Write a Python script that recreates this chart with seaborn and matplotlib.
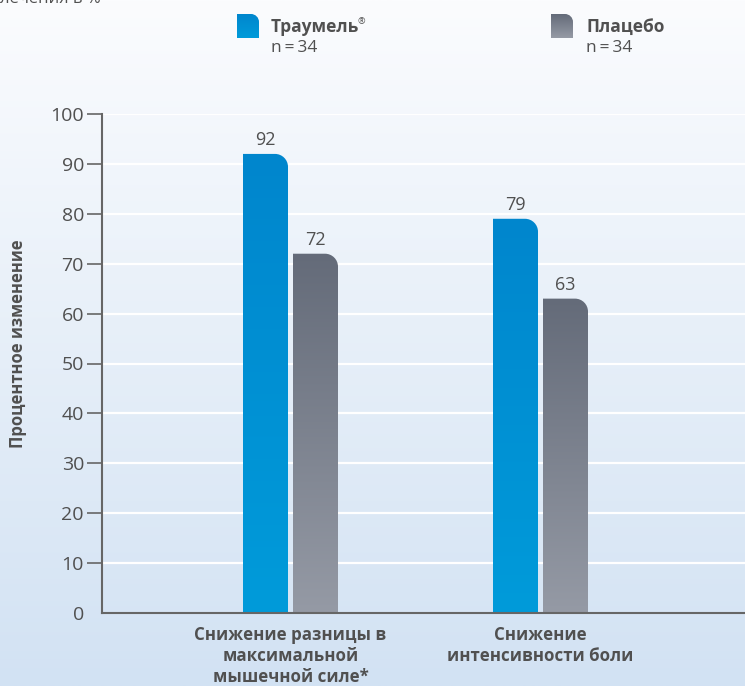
import numpy as np
import pandas as pd
import matplotlib
matplotlib.use("Agg")
import matplotlib.pyplot as plt
import seaborn as sns
from matplotlib.path import Path
from matplotlib.patches import PathPatch
from matplotlib.colors import LinearSegmentedColormap

# ---- data ----
categories = ["Снижение разницы в\nмаксимальной\nмышечной силе*", "Снижение\nинтенсивности боли"]
groups = ["Траумель", "Плацебо"]
traumeel_values = [92, 79]
placebo_values = [72, 63]
group_n = ["n\u2009=\u200934", "n\u2009=\u200934"]
yticks = [0, 10, 20, 30, 40, 50, 60, 70, 80, 90, 100]

df = pd.DataFrame({
    "category": categories * 2,
    "group": [groups[0]] * 2 + [groups[1]] * 2,
    "value": traumeel_values + placebo_values,
})

grad_top = {groups[0]: "#0086cd", groups[1]: "#646b79"}
grad_bot = {groups[0]: "#009bda", groups[1]: "#959aa5"}
TXT = "#505050"

sns.set_theme(style="white")
plt.rcParams["font.family"] = ["Open Sans", "DejaVu Sans"]

W, H = 745, 686
fig = plt.figure(figsize=(W / 100, H / 100), dpi=100)

# background gradient
bg = fig.add_axes([0, 0, 1, 1], zorder=-10)
bg_cmap = LinearSegmentedColormap.from_list("bg", ["#fbfcfe", "#d2e2f3"])
bg.imshow(np.linspace(0, 1, 256).reshape(-1, 1), aspect="auto", cmap=bg_cmap,
          extent=[0, 1, 0, 1], origin="upper")
bg.set_axis_off()

# main axes: left 102px, right 745px, top 114px(=100), bottom 613px (=0)
x0, x1 = 102, 745
y_top_px, y_bot_px = 114, 613
ax = fig.add_axes([x0 / W, 1 - y_bot_px / H, (x1 - x0) / W, (y_bot_px - y_top_px) / H])
ax.set_facecolor("none")

sns.barplot(data=df, x="category", y="value", hue="group", hue_order=groups,
            order=categories, width=0.4, gap=0.1, palette=grad_top,
            legend=False, ax=ax, errorbar=None)

ax.set_ylim(0, 100)
ax.set_xlim(-0.754, 1.818)
ax.set_yticks(yticks)
ax.set_yticklabels([str(t) for t in yticks], fontsize=14, color=TXT)
ax.tick_params(axis="y", length=11, width=1.2, color="#666666", pad=2, left=True)
ax.tick_params(axis="x", length=0, pad=9)
for lbl in ax.get_xticklabels():
    lbl.set_fontweight("bold")
    lbl.set_fontsize(12.2)
    lbl.set_color(TXT)
    lbl.set_linespacing(1.25)
    lbl.set_va("top")
ax.yaxis.get_major_ticks()[0].tick1line.set_visible(False)

for y in yticks[1:]:
    ax.axhline(y, color="white", lw=1.6, zorder=0.5)

for s in ["top", "right"]:
    ax.spines[s].set_visible(False)
for s in ["left", "bottom"]:
    ax.spines[s].set_color("#666666")
    ax.spines[s].set_linewidth(1.5)
    ax.spines[s].set_zorder(5)

ax.set_xlabel("")
ax.set_ylabel("")
fig.text(18 / W, 1 - 344 / H, "Процентное изменение", rotation=90, ha="center", va="center",
         fontsize=12, fontweight="bold", color=TXT)

# rounded-top-right bars with vertical gradient
px_per_x = (x1 - x0) / (1.818 + 0.754)
px_per_y = (y_bot_px - y_top_px) / 100.0
r_px = 13
rx = r_px / px_per_x
ry = r_px / px_per_y
k = 0.5523

patches = list(ax.patches)
for i, p in enumerate(patches):
    g = groups[i // len(categories)]
    xl = p.get_x()
    w = p.get_width()
    h = p.get_height()
    xr = xl + w
    p.set_visible(False)
    verts = [
        (xl, 0), (xl, h), (xr - rx, h),
        (xr - rx + k * rx, h), (xr, h - ry + k * ry), (xr, h - ry),
        (xr, 0), (xl, 0),
    ]
    codes = [Path.MOVETO, Path.LINETO, Path.LINETO,
             Path.CURVE4, Path.CURVE4, Path.CURVE4,
             Path.LINETO, Path.CLOSEPOLY]
    pp = PathPatch(Path(verts, codes), facecolor="none", edgecolor="none")
    ax.add_patch(pp)
    cmap = LinearSegmentedColormap.from_list("b", [grad_top[g], grad_bot[g]])
    im = ax.imshow(np.linspace(0, 1, 256).reshape(-1, 1), aspect="auto", cmap=cmap,
                   extent=[xl, xr, 0, h], origin="upper", zorder=2)
    im.set_clip_path(pp)
    ax.text(xl + w / 2, h + 0.9, f"{h:.0f}", ha="center", va="bottom",
            fontsize=13, color=TXT, zorder=3)

ax.set_xlim(-0.754, 1.818)
ax.set_ylim(0, 100)

# legend at top
legend_x = [237, 551]
text_x = [271, 586]
for j, g in enumerate(groups):
    lx = legend_x[j]
    lax = fig.add_axes([lx / W, 1 - 38 / H, 22 / W, 24 / H])
    lax.set_xlim(0, 22)
    lax.set_ylim(0, 24)
    lax.set_axis_off()
    r = 8
    verts = [(0, 0), (0, 24), (22 - r, 24), (22 - r + k * r, 24), (22, 24 - r + k * r),
             (22, 24 - r), (22, 0), (0, 0)]
    codes = [Path.MOVETO, Path.LINETO, Path.LINETO, Path.CURVE4, Path.CURVE4, Path.CURVE4,
             Path.LINETO, Path.CLOSEPOLY]
    pp = PathPatch(Path(verts, codes), facecolor="none", edgecolor="none")
    lax.add_patch(pp)
    cmap = LinearSegmentedColormap.from_list("l", [grad_top[g], grad_bot[g]])
    im = lax.imshow(np.linspace(0, 1, 64).reshape(-1, 1), aspect="auto", cmap=cmap,
                    extent=[0, 22, 0, 24], origin="upper")
    im.set_clip_path(pp)
    tx = text_x[j]
    fig.text(tx / W, 1 - 27 / H, g, ha="left", va="center", fontsize=12.5,
             fontweight="bold", color=TXT)
    if j == 0:
        fig.text(358 / W, 1 - 22 / H, "®", ha="left", va="center", fontsize=6.5,
                 color=TXT)
    fig.text(tx / W, 1 - 48 / H, group_n[j], ha="left", va="center", fontsize=12.5,
             color=TXT)

# cut-off header text at the very top
fig.text(0 / W, 1 - 3 / H, "лечения в %", ha="left", va="baseline", fontsize=12,
         color=TXT)

fig.savefig("out.png", dpi=100)
